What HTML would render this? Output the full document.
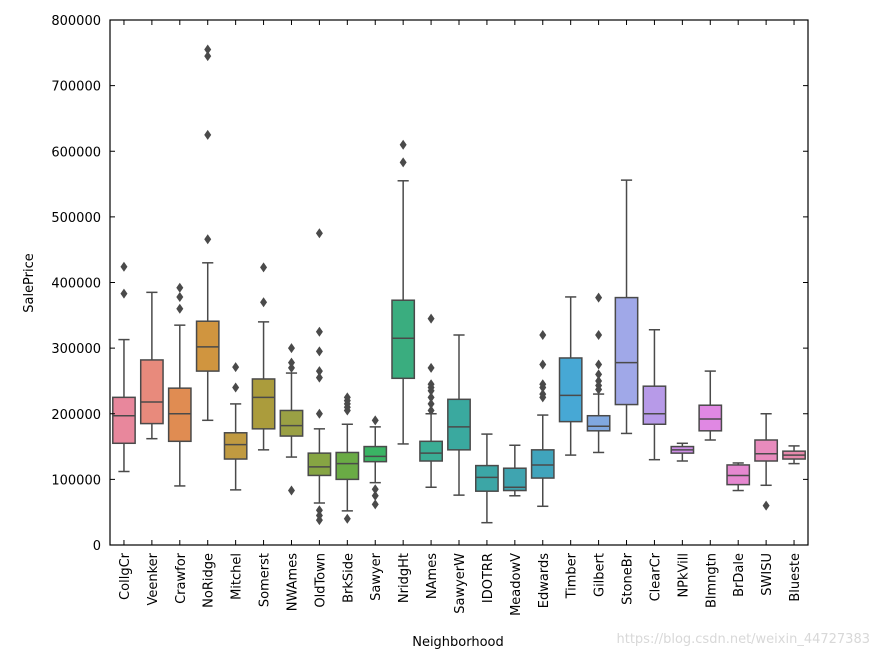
<!DOCTYPE html>
<html><head><meta charset="utf-8"><style>
body{margin:0;background:#fff;width:879px;height:658px;overflow:hidden}
svg{font-family:"DejaVu Sans","Liberation Sans",sans-serif}
</style></head><body>
<svg id="chart" width="879" height="658">
</svg>
<script>
const categories=["CollgCr","Veenker","Crawfor","NoRidge","Mitchel","Somerst","NWAmes","OldTown","BrkSide","Sawyer","NridgHt","NAmes","SawyerW","IDOTRR","MeadowV","Edwards","Timber","Gilbert","StoneBr","ClearCr","NPkVill","Blmngtn","BrDale","SWISU","Blueste"];
const whiskerLow=[112,162,90,190,84,145,134,64,52,95,154,88,76,34,75,59,137,141,170,130,128,160,83,91,124];
const q1=[155,185,158,265,131,177,166,106,100,127,254,128,145,82,83,102,188,174,214,184,140,174,92,128,131];
const median=[197,218,200,302,153,225,182,119,124,135,315,140,180,103,88,122,228,181,278,200,145,192,106,139,137];
const q3=[225,282,239,341,171,253,205,140,141,150,373,158,222,121,117,145,285,197,377,242,150,213,122,160,143];
const whiskerHigh=[313,385,335,430,215,340,262,177,184,180,555,200,320,169,152,198,378,230,556,328,155,265,125,200,151];
const outliers=[[383,424],[],[360,378,392],[466,625,745,755],[240,271],[370,423],[83,270,278,300],[38,45,53,200,255,265,295,325,475],[40,205,210,215,220,225],[62,75,85,190],[583,610],[205,215,225,235,240,245,270,345],[],[],[],[225,230,240,245,275,320],[],[237,243,250,260,275,320,377],[],[],[],[],[],[60],[]];
const colors=["#e8879c","#e88a7c","#e08c52","#d0953f","#c09a41","#ab9c3c","#9aa044","#86a543","#6aab45","#3ab464","#3aad7f","#3aad95","#3aa99f","#3ca6a6","#3fa4b0","#40a4bc","#47a8d5","#80a8e0","#a0a8e8","#b79ae8","#cf8ee8","#e088e3","#e688d0","#e88bbd","#e889ac"];
const yTicks=[0,100000,200000,300000,400000,500000,600000,700000,800000];

const L=110,R=808,T=20,B=545;
const step=(R-L)/categories.length;
const xs=i=>L+step*(i+0.5);
const ys=v=>B-v*1000/800000*(B-T);
const ns="http://www.w3.org/2000/svg";
const svg=document.getElementById('chart');
function mk(tag,attrs,parent){const e=document.createElementNS(ns,tag);for(const k in attrs)e.setAttribute(k,attrs[k]);(parent||svg).appendChild(e);return e;}
const ink="#4a4a4a";
categories.forEach((c,i)=>{
  const g=mk('g',{});
  
  
  const x=xs(i),w=step*0.8,cap=w/2;
  mk('line',{x1:x,x2:x,y1:ys(whiskerLow[i]),y2:ys(q1[i]),stroke:ink,'stroke-width':1.5},g);
  mk('line',{x1:x,x2:x,y1:ys(q3[i]),y2:ys(whiskerHigh[i]),stroke:ink,'stroke-width':1.5},g);
  mk('line',{x1:x-cap/2,x2:x+cap/2,y1:ys(whiskerLow[i]),y2:ys(whiskerLow[i]),stroke:ink,'stroke-width':1.5},g);
  mk('line',{x1:x-cap/2,x2:x+cap/2,y1:ys(whiskerHigh[i]),y2:ys(whiskerHigh[i]),stroke:ink,'stroke-width':1.5},g);
  mk('rect',{x:x-w/2,y:ys(q3[i]),width:w,height:ys(q1[i])-ys(q3[i]),fill:colors[i],stroke:ink,'stroke-width':1.5},g);
  mk('line',{x1:x-w/2,x2:x+w/2,y1:ys(median[i]),y2:ys(median[i]),stroke:ink,'stroke-width':1.5},g);
  outliers[i].forEach(v=>{const y=ys(v);
    mk('polygon',{points:`${x},${y-5} ${x+3.5},${y} ${x},${y+5} ${x-3.5},${y}`,fill:ink},g);});
  mk('line',{x1:x,x2:x,y1:B,y2:B-5,stroke:'#000'});
  mk('line',{x1:x,x2:x,y1:T,y2:T+5,stroke:'#000'});
  const t=mk('text',{x:0,y:0,transform:`translate(${x+5},553) rotate(-90)`,'text-anchor':'end','font-size':13});
  
  
  t.textContent=c;
});
yTicks.forEach(v=>{
  const y=B-v/800000*(B-T);
  mk('line',{x1:L,x2:L+5,y1:y,y2:y,stroke:'#000'});
  mk('line',{x1:R,x2:R-5,y1:y,y2:y,stroke:'#000'});
  const t=mk('text',{x:101,y:y+5,'text-anchor':'end','font-size':13});
  
  
  t.textContent=v;
});
const frame=mk('rect',{x:L,y:T,width:R-L,height:B-T,fill:'none',stroke:'#000','stroke-width':1.2});


const yt=mk('text',{x:0,y:0,transform:'translate(33,283) rotate(-90)','text-anchor':'middle','font-size':13});


yt.textContent='SalePrice';
const xt=mk('text',{x:458,y:646,'text-anchor':'middle','font-size':13});


xt.textContent='Neighborhood';
const wm=mk('text',{x:870,y:643,'text-anchor':'end','font-size':13,fill:'#d8d8d8'});


wm.textContent='https://blog.csdn.net/weixin_44727383';
</script>
</body></html>
